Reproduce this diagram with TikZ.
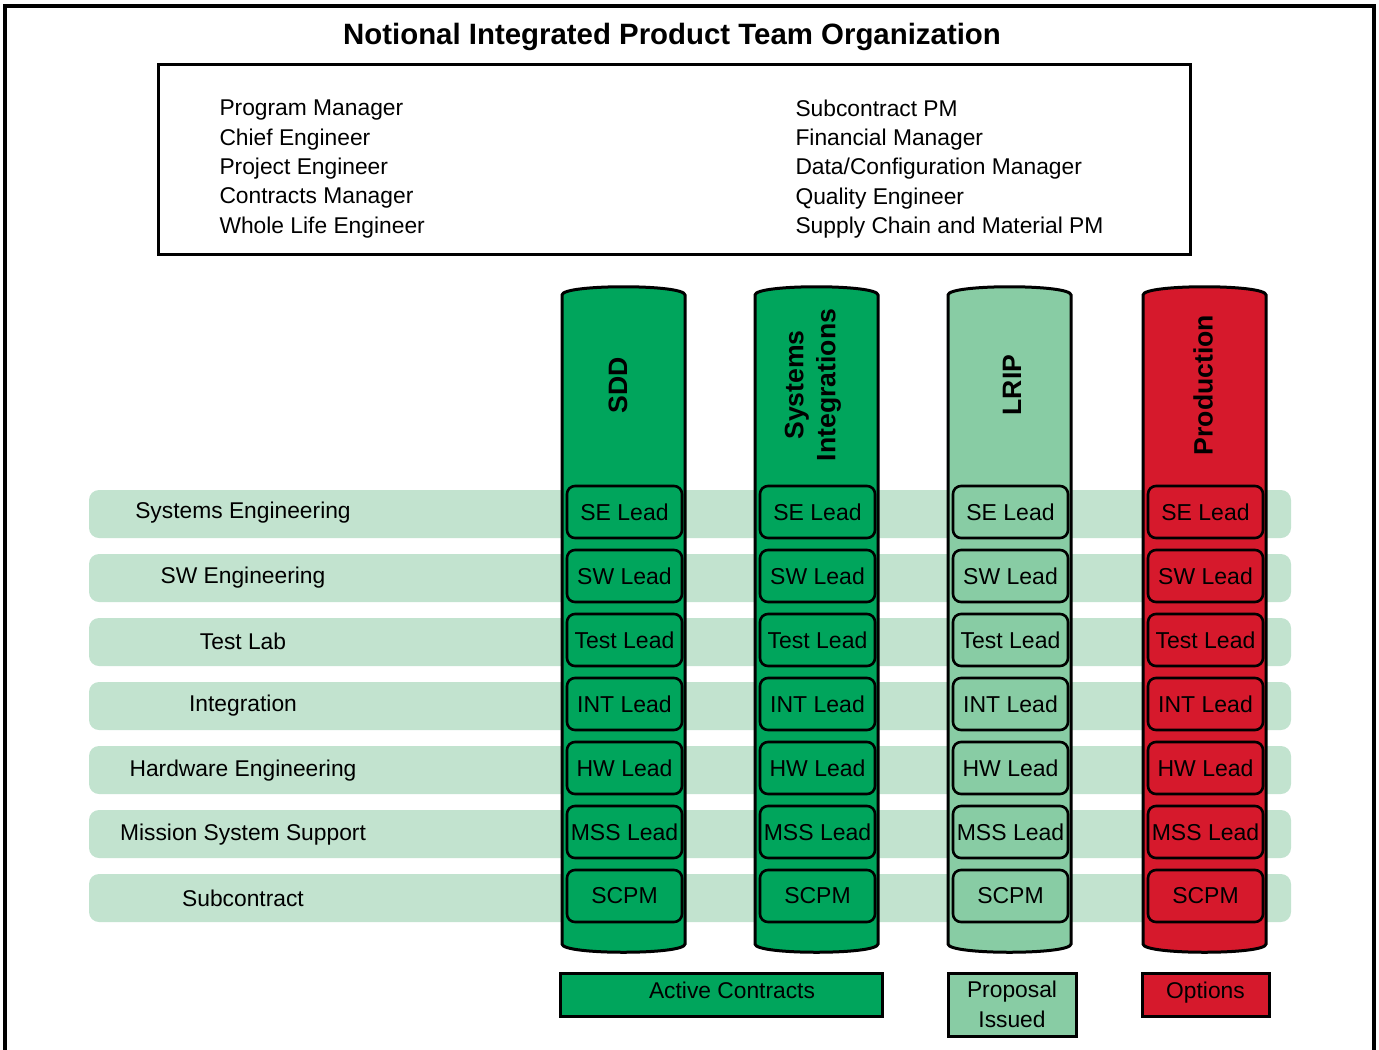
\documentclass[tikz,border=0pt]{standalone}
\usepackage{fontspec}
\setsansfont{Liberation Sans}
\usetikzlibrary{positioning}
\definecolor{cgreen}{HTML}{00A55C}
\definecolor{clight}{HTML}{88CCA4}
\definecolor{cred}{HTML}{D6192C}
\definecolor{cband}{HTML}{C2E3CF}
\tikzset{
  every picture/.style={font=\sffamily, line width=1.5pt},
  txt/.style={font=\sffamily\fontsize{11.4}{14.65}\selectfont, inner sep=0pt},
  title/.style={font=\sffamily\bfseries\fontsize{14.7}{17}\selectfont, inner sep=0pt},
  roster/.style={txt, align=left},
  band/.style={fill=cband, rounded corners=5pt, minimum width=601pt, minimum height=24pt, inner sep=0pt},
  lead/.style={draw=black, fill=#1, rounded corners=4pt, minimum width=57.5pt, minimum height=26pt,
    inner sep=0pt, line width=1.3pt, font=\sffamily\fontsize{11.5}{13}\selectfont},
  phase/.style={font=\sffamily\bfseries\fontsize{13.3}{16}\selectfont, rotate=90, align=center, inner sep=0pt},
  key/.style={draw=black, fill=#1, minimum height=21.5pt, inner sep=0pt, align=center,
    font=\sffamily\fontsize{11.4}{15}\selectfont},
}
\begin{document}
\begin{tikzpicture}[x=0.5pt, y=-0.5pt]
  \useasboundingbox (0,0) rectangle (1379,1049);
  % outer frame, open at the bottom
  \draw[line width=1.6pt] (5,1070) -- (5,6) -- (1374,6) -- (1374,1070);
  \node[title] (title) at (672,37) {Notional Integrated Product Team Organization};

  % program office
  \node[draw, minimum width=516pt, minimum height=95pt, inner sep=0pt] (office) at (674,159) {};
  \node[roster, anchor=west] (officeL) at (218,169)
    {Program Manager\\Chief Engineer\\Project Engineer\\Contracts Manager\\Whole Life Engineer};
  \node[roster, anchor=west] (officeR) at (794,169)
    {Subcontract PM\\Financial Manager\\Data/Configuration Manager\\Quality Engineer\\Supply Chain and Material PM};

  % functional rows
  \foreach \fn [count=\i from 0] in {Systems Engineering, SW Engineering, Test Lab, Integration,
      Hardware Engineering, Mission System Support, Subcontract} {
    \node[band] (row\i) at (690,{514+64*\i}) {};
    \node[txt] (fn\i) at (243,{513+64.3*\i}) {\fn};
  }

  % phase columns with their leads
  \foreach \x/\c/\n in {623.5/cgreen/sdd, 816.5/cgreen/si, 1009.5/clight/lrip, 1204.5/cred/prod} {
    \draw[fill=\c] ({\x-61.5},944) -- ({\x-61.5},295)
      .. controls ({\x-61.5},284) and ({\x+61.5},284) .. ({\x+61.5},295)
      -- ({\x+61.5},944) .. controls ({\x+61.5},955) and ({\x-61.5},955) .. cycle;
    \foreach \ld [count=\i from 0] in {SE Lead, SW Lead, Test Lead, INT Lead, HW Lead, MSS Lead, SCPM}
      \node[lead=\c] (\n-\i) at ({\x+1},{512+64*\i}) {\ld};
  }
  \node[phase] (sdd) at (618,385) {SDD};
  \node[phase] (si) at (813,385) {Systems\\Integrations};
  \node[phase] (lrip) at (1012,385) {LRIP};
  \node[phase] (prod) at (1203,385) {Production};

  % contract status
  \node[key=cgreen, minimum width=161pt, text depth=4pt] (active) at (721,994.5) {\hspace*{11pt}Active Contracts};
  \node[key=clight, minimum width=64pt, minimum height=31.5pt] (proposal) at (1012,1004.5) {Proposal\\Issued};
  \node[key=cred, minimum width=63.5pt, text depth=4pt] (options) at (1205.5,994.5) {Options};
\end{tikzpicture}
\end{document}
